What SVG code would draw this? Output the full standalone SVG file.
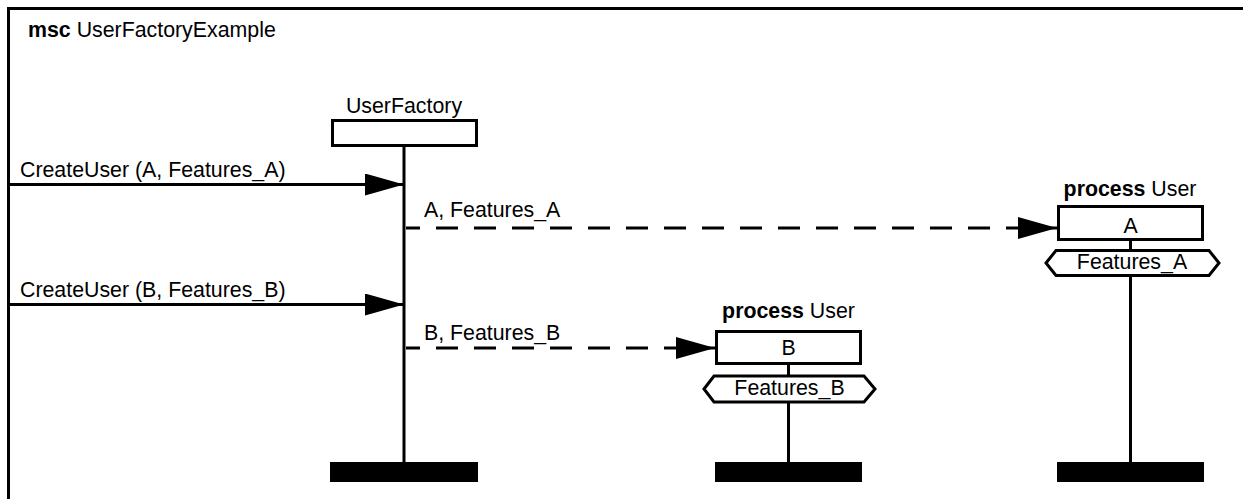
<svg xmlns="http://www.w3.org/2000/svg" width="1243" height="499" viewBox="0 0 1243 499">
  <style>
    text { font-family: "Liberation Sans", Arial, sans-serif; font-size: 21.33px; fill: #000; }
    .mid { text-anchor: middle; }
    .kw { font-weight: bold; }
    .box { fill: #fff; stroke: #000; stroke-width: 3; }
    .life { stroke: #000; stroke-width: 3; fill: none; }
    .stop { fill: #000; }
    .msg { stroke: #000; stroke-width: 3; fill: none; }
    .dash { stroke-dasharray: 22 16; stroke-dashoffset: 8; }
  </style>
  <defs>
    <marker id="head" markerUnits="userSpaceOnUse" markerWidth="40" markerHeight="22" refX="39" refY="11" orient="auto" viewBox="0 0 40 22">
      <path d="M0,0 L39,11 L0,22 Z" fill="#000"/>
    </marker>
  </defs>

  <rect x="0" y="0" width="1243" height="499" fill="#fff"/>

  <!-- diagram frame -->
  <g id="frame">
    <rect x="8.5" y="8.5" width="1400" height="700" fill="none" stroke="#000" stroke-width="3"/>
    <text x="28" y="37"><tspan class="kw">msc</tspan> UserFactoryExample</text>
  </g>

  <!-- instance: UserFactory -->
  <g id="userfactory">
    <text class="mid" x="404" y="113">UserFactory</text>
    <line class="life" x1="404" y1="146" x2="404" y2="463"/>
    <rect class="box" x="332.5" y="120.5" width="144" height="25"/>
    <rect class="stop" x="330" y="462" width="148" height="20"/>
  </g>

  <!-- instance: User A -->
  <g id="userA">
    <text class="mid" x="1130" y="196"><tspan class="kw">process</tspan> User</text>
    <line class="life" x1="1130.5" y1="240" x2="1130.5" y2="463"/>
    <rect class="box" x="1058.5" y="206.5" width="144" height="33"/>
    <text class="mid" x="1130.5" y="233">A</text>
    <polygon class="box" points="1046,263 1056,250.5 1209,250.5 1219,263 1209,275.5 1056,275.5"/>
    <text class="mid" x="1132" y="269">Features_A</text>
    <rect class="stop" x="1057" y="462" width="147" height="20"/>
  </g>

  <!-- instance: User B -->
  <g id="userB">
    <text class="mid" x="788.5" y="318"><tspan class="kw">process</tspan> User</text>
    <line class="life" x1="788.5" y1="364" x2="788.5" y2="463"/>
    <rect class="box" x="716.5" y="331.5" width="144" height="32"/>
    <text class="mid" x="788.5" y="355">B</text>
    <polygon class="box" points="704,389 714,376 864,376 875,389 864,402 714,402"/>
    <text class="mid" x="789.5" y="395">Features_B</text>
    <rect class="stop" x="715" y="462" width="147" height="20"/>
  </g>

  <!-- messages -->
  <g id="connectors">
    <line class="msg" x1="8" y1="184.5" x2="404" y2="184.5" marker-end="url(#head)"/>
    <text x="20" y="177">CreateUser (A, Features_A)</text>

    <line class="msg dash" x1="406" y1="228" x2="1057" y2="228" marker-end="url(#head)"/>
    <text x="424" y="217">A, Features_A</text>

    <line class="msg" x1="8" y1="304.5" x2="404" y2="304.5" marker-end="url(#head)"/>
    <text x="20" y="297">CreateUser (B, Features_B)</text>

    <line class="msg dash" x1="406" y1="348" x2="715" y2="348" marker-end="url(#head)"/>
    <text x="424" y="340">B, Features_B</text>
  </g>
</svg>
